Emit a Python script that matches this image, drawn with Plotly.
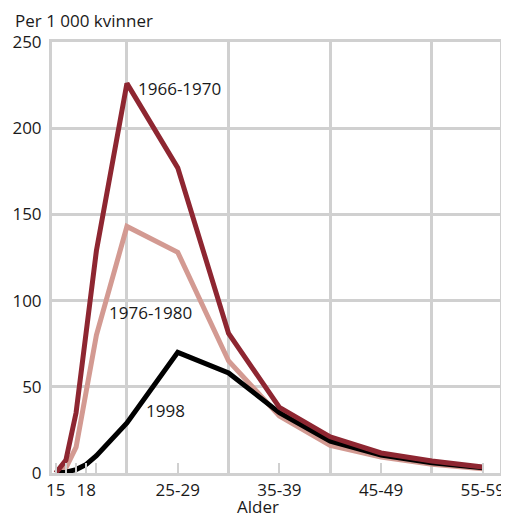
import plotly.graph_objects as go

# alder: enkeltår 15-19, deretter femårsgrupper plassert i midtpunktet
ages = [15, 16, 17, 18, 19, 22, 27, 32, 37, 42, 47, 52, 57]

rate_1966_1970 = [0, 7.5, 35, 80, 129, 226, 177, 81, 38, 21, 11.6, 7, 3.5]
rate_1976_1980 = [0, 3, 15, 48, 80, 143, 128, 65, 33, 16, 9.3, 5, 2.5]
rate_1998 = [0, 0.5, 2, 5, 10, 29, 70, 58, 35, 18.5, 10.4, 6, 3]

tick_vals = [15, 16, 17, 18, 19, 27, 37, 47, 57]
tick_text = ["15", "", "", "18", "", "25-29", "35-39", "45-49", "55-59"]
grid_vals = [22, 32, 42, 52]

dark_red = "#8E2631"
pink = "#D39A92"
grid = "#D0D0D0"
font = "Open Sans"
txt_col = "#1a1a1a"

fig = go.Figure()
fig.add_trace(go.Scatter(x=ages, y=rate_1976_1980, mode="lines",
                         line=dict(color=pink, width=5), name="1976-1980"))
fig.add_trace(go.Scatter(x=ages, y=rate_1998, mode="lines",
                         line=dict(color="black", width=5), name="1998"))
fig.add_trace(go.Scatter(x=ages, y=rate_1966_1970, mode="lines",
                         line=dict(color=dark_red, width=5), name="1966-1970"))

labels = [("1966-1970", 22.9, 223), ("1976-1980", 20.0, 93), ("1998", 23.7, 36)]
for txt, x, y in labels:
    fig.add_annotation(x=x, y=y, text=txt, showarrow=False, xanchor="left",
                       yanchor="middle", font=dict(size=17, color=txt_col))

fig.add_annotation(x=-0.0876, y=1.051, xref="paper", yref="paper",
                   text="Per 1 000 kvinner", showarrow=False,
                   xanchor="left", yanchor="middle",
                   font=dict(size=17, color=txt_col))
fig.add_annotation(x=0.4595, y=-0.077, xref="paper", yref="paper",
                   text="Alder", showarrow=False, xanchor="center",
                   yanchor="middle", font=dict(size=17, color=txt_col))

# siden ligger 8px inn fra kanten (body-marg), derfor 501x509
fig.update_layout(
    width=501, height=509,
    margin=dict(l=44, r=4, t=34, b=44),
    plot_bgcolor="white", paper_bgcolor="white",
    showlegend=False,
    font=dict(family=font, size=17, color=txt_col),
)
fig.update_xaxes(
    range=[14.63, 58.7],
    tickvals=tick_vals, ticktext=tick_text,
    ticks="inside", ticklen=10, tickwidth=2, tickcolor=grid,
    showgrid=False, zeroline=False,
    showline=True, linecolor=grid, linewidth=3, mirror=True,
    minor=dict(tickvals=grid_vals, showgrid=True, gridcolor=grid,
               gridwidth=3, ticklen=0),
    ticklabelstandoff=0,
)
fig.update_yaxes(
    range=[0, 250], tickvals=[0, 50, 100, 150, 200, 250],
    showgrid=True, gridcolor=grid, gridwidth=3, zeroline=False,
    showline=True, linecolor=grid, linewidth=3, mirror=True,
    ticks="", ticklabelstandoff=4,
)

fig.write_html("out.html")
